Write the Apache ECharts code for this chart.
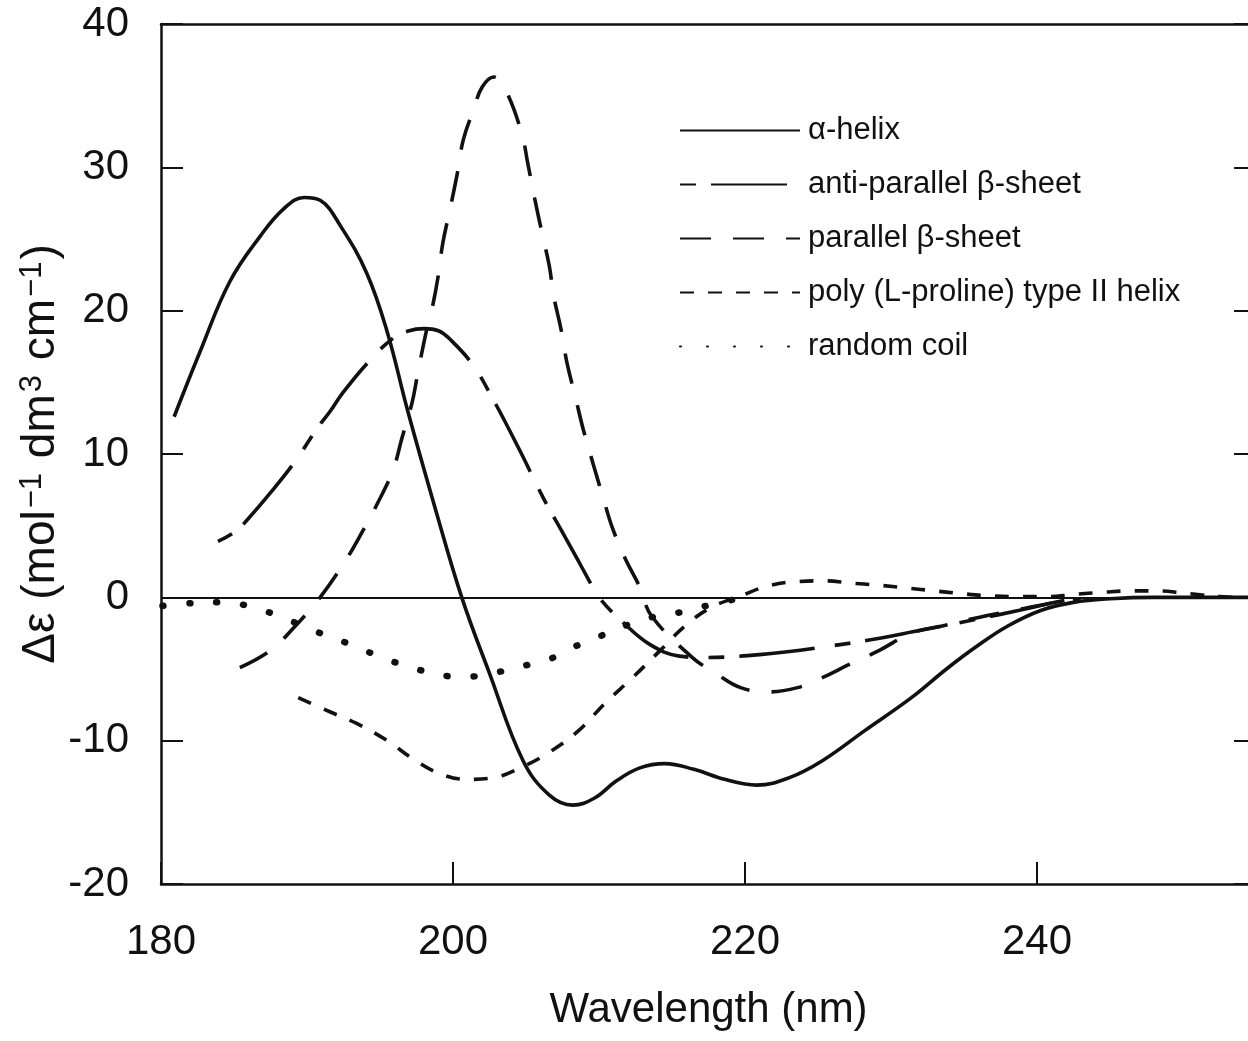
<!DOCTYPE html>
<html>
<head>
<meta charset="utf-8">
<script src="https://cdn.jsdelivr.net/npm/echarts@6/dist/echarts.min.js"></script>
<style>
  html, body { margin: 0; padding: 0; background: #fff; }
  #chart { width: 1248px; height: 1041px; }
</style>
</head>
<body>
<div id="chart"></div>
<script>
// ---- data ----
const seriesNames = ['α-helix', 'anti-parallel β-sheet', 'parallel β-sheet', 'poly (L-proline) type II helix', 'random coil'];

const helixX = [180.9, 182.7, 184.7, 186.8, 188.4, 189.8, 190.9, 192.3, 194.1, 195.5, 196.9, 198.7, 200.6, 202.5, 204.8, 206.6, 208.2, 209.7, 211.2, 212.8, 214.5, 216.5, 218.6, 220.8, 223.0, 225.3, 228.2, 231.4, 233.8, 235.9, 238.0, 240.3, 242.5, 245.0, 248.0, 252.0, 255.0];
const helixY = [12.6, 17.2, 22.0, 25.2, 27.1, 27.9, 27.7, 25.9, 22.6, 18.5, 13.0, 6.5, 0.0, -5.3, -11.4, -13.8, -14.5, -14.0, -12.8, -11.9, -11.6, -12.0, -12.7, -13.1, -12.6, -11.4, -9.3, -7.0, -5.0, -3.4, -2.0, -0.9, -0.35, -0.1, 0, 0, 0];

const antiX = [183.9, 185.1, 185.9, 187.5, 189.2, 190.7, 191.6, 192.4, 194.1, 195.8, 197.0, 198.0, 199.0, 199.8, 201.3, 202.7, 204.5, 206.2, 207.3, 208.5, 209.2, 210.0, 211.7, 213.5, 215.5, 217.3, 219.0, 221.0, 222.9, 225.1, 228.4, 232.0, 236.0, 238.8, 241.0, 243.0];
const antiY = [3.9, 4.6, 5.4, 7.3, 9.5, 11.8, 13.0, 14.2, 16.3, 18.0, 18.6, 18.75, 18.6, 18.0, 16.3, 13.9, 10.4, 6.9, 4.9, 2.7, 1.4, 0.0, -1.8, -3.3, -4.1, -4.2, -4.15, -4.0, -3.8, -3.5, -3.0, -2.3, -1.5, -0.9, -0.4, 0];

const paraX = [185.4, 187.5, 189.2, 190.9, 192.6, 193.8, 194.9, 195.9, 196.5, 197.2, 197.6, 198.2, 198.6, 199.0, 199.3, 199.8, 200.3, 200.7, 201.4, 202.0, 202.8, 203.6, 204.7, 205.1, 205.6, 206.1, 206.6, 206.9, 207.4, 207.8, 208.4, 208.9, 209.6, 210.3, 210.9, 211.8, 212.8, 213.6, 216.4, 218.0, 219.7, 221.6, 223.6, 225.3, 227.1, 229.2, 231.4, 233.5, 236.0, 238.5, 241.0, 243.0];
const paraY = [-4.9, -3.7, -2.0, 0.0, 2.5, 4.6, 6.7, 8.9, 11.1, 13.6, 15.7, 18.7, 20.3, 22.5, 24.7, 27.1, 29.6, 31.9, 34.0, 35.6, 36.3, 35.4, 32.4, 30.4, 27.8, 25.4, 23.1, 21.0, 18.7, 16.4, 13.9, 11.8, 9.3, 6.9, 4.9, 2.7, 0.7, -1.3, -4.2, -5.3, -6.3, -6.6, -6.3, -5.6, -4.7, -3.7, -2.5, -2.0, -1.4, -0.9, -0.4, -0.1];

const ppiiX = [189.4, 191.6, 193.4, 195.5, 197.3, 199.1, 201.0, 202.7, 204.6, 206.6, 208.6, 210.4, 212.3, 214.2, 216.0, 217.7, 219.7, 221.6, 223.6, 225.5, 227.2, 229.1, 231.1, 233.0, 234.9, 236.8, 238.7, 240.7, 242.5, 244.5, 246.4, 248.2, 250.0, 252.0, 253.5];
const ppiiY = [-7.0, -8.0, -8.8, -10.0, -11.3, -12.3, -12.7, -12.6, -11.9, -10.8, -9.3, -7.4, -5.6, -3.7, -1.9, -0.7, 0.1, 0.8, 1.1, 1.15, 1.0, 0.85, 0.65, 0.45, 0.25, 0.1, 0.05, 0.05, 0.2, 0.35, 0.45, 0.45, 0.3, 0.1, 0.0];

const coilX = [180.1, 182.2, 184.0, 186.0, 187.8, 189.5, 191.4, 193.3, 195.1, 197.2, 199.0, 200.8, 202.7, 204.5, 206.4, 208.2, 210.1, 212.0, 213.8, 215.8, 217.7, 219.5];
const coilY = [-0.6, -0.4, -0.35, -0.6, -1.2, -1.9, -2.7, -3.4, -4.2, -4.9, -5.4, -5.55, -5.3, -4.85, -4.4, -3.5, -2.7, -1.9, -1.35, -1.0, -0.5, -0.1];

const xTicks = [180, 200, 220, 240];
const yTicks = [-20, -10, 0, 10, 20, 30, 40];

// ---- chart ----
const zip = (xs, ys) => xs.map((x, i) => [x, ys[i]]);
const FONT = "'Liberation Sans', Arial, sans-serif";
const INK = '#111';

function lineSeries(name, xs, ys, type, width, cap) {
  return {
    name: name,
    type: 'line',
    data: zip(xs, ys),
    symbol: 'none',
    smooth: 0.4,
    lineStyle: { color: INK, width: width, type: type, cap: cap || 'butt' },
    itemStyle: { color: INK },
    z: 3
  };
}

const series = [
  lineSeries(seriesNames[0], helixX, helixY, 'solid', 3.6),
  lineSeries(seriesNames[1], antiX, antiY, [16, 15, 76, 20], 3.6),
  lineSeries(seriesNames[2], paraX, paraY, [31, 22], 3.6),
  lineSeries(seriesNames[3], ppiiX, ppiiY, [14, 14], 3.6),
  lineSeries(seriesNames[4], coilX, coilY, [1, 26], 6.5, 'round')
];
series[0].markLine = {
  silent: true,
  symbol: 'none',
  label: { show: false },
  lineStyle: { color: INK, width: 2, type: 'solid' },
  data: [{ yAxis: 0 }]
};

const yName = '{m|Δε (mol}{s|−1}{m| dm}{s|3}{m| cm}{s|−1}{m|)}';

const chart = echarts.init(document.getElementById('chart'), null, { renderer: 'canvas' });
chart.setOption({
  animation: false,
  backgroundColor: '#fff',
  grid: { left: 161, top: 24, width: 1095, height: 860, containLabel: false, outerBoundsMode: 'none' },
  legend: {
    orient: 'vertical',
    left: 674,
    top: 110,
    itemWidth: 120,
    itemHeight: 14,
    itemGap: 23,
    selectedMode: false,
    data: seriesNames,
    itemStyle: { opacity: 0 },
    textStyle: { fontSize: 31, fontFamily: FONT, color: INK, lineHeight: 31, padding: [0, 0, 0, 3] }
  },
  xAxis: [
    {
      type: 'value', min: 180, max: 255, interval: 20, position: 'bottom',
      name: 'Wavelength (nm)', nameLocation: 'middle', nameGap: 105, nameMoveOverlap: false,
      nameTextStyle: { fontSize: 42, fontFamily: FONT, color: INK },
      axisLine: { show: true, onZero: false, lineStyle: { color: INK, width: 2.5 } },
      axisTick: { show: true, inside: true, length: 22, lineStyle: { color: INK, width: 2 } },
      axisLabel: {
        show: true, margin: 37, fontSize: 42, fontFamily: FONT, color: INK,
        formatter: v => xTicks.indexOf(v) >= 0 ? String(v) : ''
      },
      splitLine: { show: false }
    },
    {
      type: 'value', min: 180, max: 255, position: 'top',
      axisLine: { show: true, onZero: false, lineStyle: { color: INK, width: 2.5 } },
      axisTick: { show: false }, axisLabel: { show: false }, splitLine: { show: false }
    }
  ],
  yAxis: [
    {
      type: 'value', min: -20, max: 40, interval: 10, position: 'left',
      name: yName, nameLocation: 'middle', nameGap: 96, nameRotate: 90, nameMoveOverlap: false,
      nameTextStyle: {
        fontSize: 46, fontFamily: FONT, color: INK,
        rich: {
          m: { fontSize: 46, fontFamily: FONT, color: INK, lineHeight: 48 },
          s: { fontSize: 31, fontFamily: FONT, color: INK, verticalAlign: 'top', lineHeight: 48, padding: [0, 2, 22, 2] }
        }
      },
      axisLine: { show: true, onZero: false, lineStyle: { color: INK, width: 2.5 } },
      axisTick: { show: true, inside: true, length: 22, lineStyle: { color: INK, width: 2 } },
      axisLabel: {
        show: true, margin: 32, fontSize: 42, fontFamily: FONT, color: INK,
        formatter: v => yTicks.indexOf(v) >= 0 ? String(v) : ''
      },
      splitLine: { show: false }
    },
    {
      type: 'value', min: -20, max: 40, interval: 10, position: 'right',
      axisLine: { show: true, onZero: false, lineStyle: { color: INK, width: 2.5 } },
      axisTick: { show: true, inside: true, length: 22, lineStyle: { color: INK, width: 2 } },
      axisLabel: { show: false }, splitLine: { show: false }
    }
  ],
  series: series
});
</script>
</body>
</html>
